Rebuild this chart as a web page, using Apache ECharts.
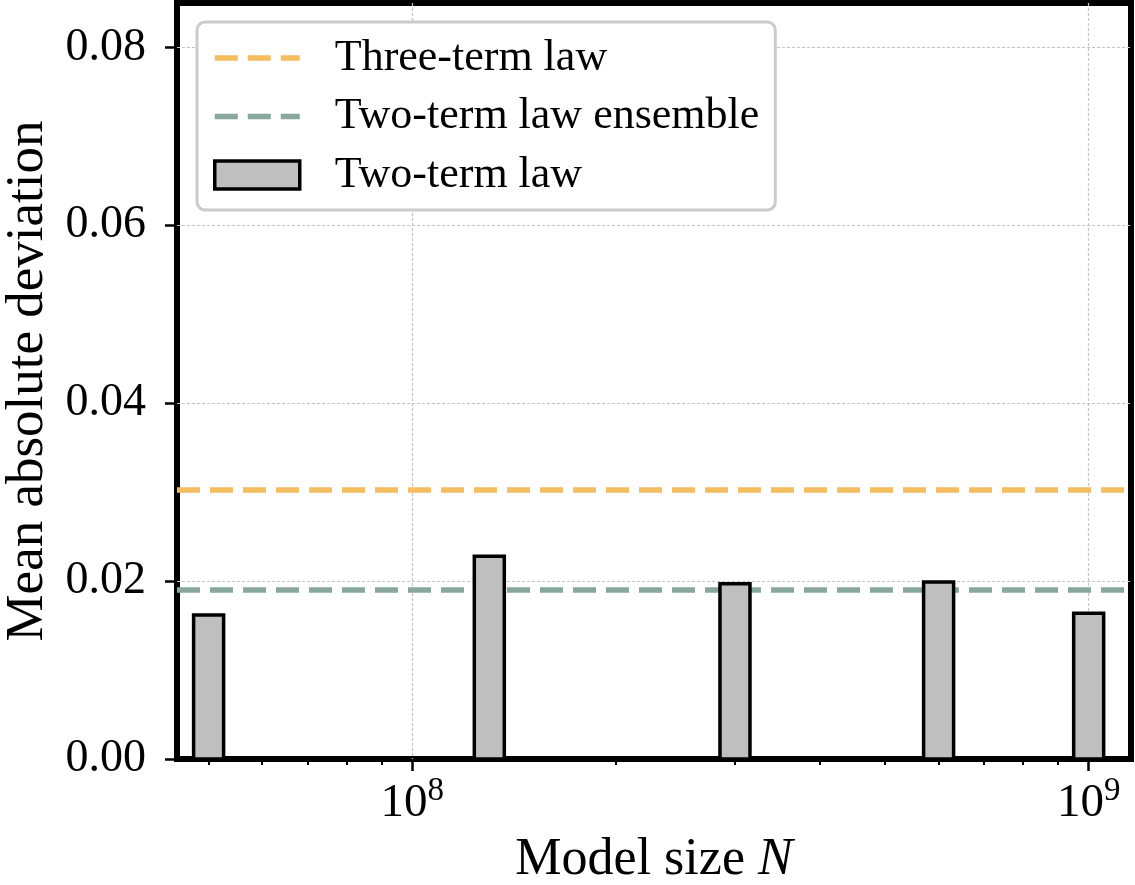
<!DOCTYPE html>
<html><head><meta charset="utf-8">
<script src="https://cdn.jsdelivr.net/npm/echarts@6/dist/echarts.min.js"></script>
<style>html,body{margin:0;padding:0;background:#fff}#c{width:1135px;height:885px}</style>
</head><body><div id="c"></div>
<script>
// ---- data ----
const modelSizes = [5.0e7, 1.3e8, 3.0e8, 6.0e8, 1.0e9];
const twoTermLaw = [0.0162, 0.0228, 0.0197, 0.0199, 0.0164];
const threeTermLaw = 0.0303;
const twoTermLawEnsemble = 0.0190;
const seriesNames = ['Three-term law', 'Two-term law ensemble', 'Two-term law'];
const yTicks = [0, 0.02, 0.04, 0.06, 0.08];
const xMajorTicks = [1e8, 1e9];
const xMinorTicks = [5e7, 6e7, 7e7, 8e7, 9e7, 2e8, 3e8, 4e8, 5e8, 6e8, 7e8, 8e8, 9e8];
const xRange = [4.49e7, 1.155e9];
const yRange = [0, 0.085];

// ---- style ----
const FONT = 'Liberation Serif';
const ORANGE = '#F4BD5F';
const GREEN = '#88A89C';
const BARFILL = '#bfbfbf';
const GRIDLINE = {color: '#c4c4c4', width: 1.2, type: [3, 2]};
const DASH = [23, 10];
// legend handle: three dashes, 5.5 px thick, centred in an 85 x 28 box
const DASH_ICON = 'path://M0,0L0.01,0L0,0.01Z M85,28L84.99,28L85,27.99Z ' +
  'M0,11.25h23v5.5h-23z M33,11.25h23v5.5h-23z M66,11.25h19v5.5h-19z';

const chart = echarts.init(document.getElementById('c'), null, {renderer: 'canvas'});

const barData = modelSizes.map((x, i) => [x, twoTermLaw[i]]);

function supLabel(v) {
  const e = Math.round(Math.log10(v));
  return '{b|10}{s|' + e + '}';
}

function refLine(name, color, value) {
  return {
    name: name, type: 'line', data: [], symbol: 'none', z: 3,
    itemStyle: {color: color},
    lineStyle: {color: color, width: 5.5, type: DASH},
    markLine: {silent: true, symbol: ['none', 'none'], precision: 6, label: {show: false},
      lineStyle: {color: color, width: 5.5, type: DASH},
      emphasis: {disabled: true},
      data: [{yAxis: value}]}
  };
}

const option = {
  animation: false,
  backgroundColor: '#fff',
  textStyle: {fontFamily: FONT},
  grid: {left: 177, right: 4, top: 3, bottom: 126, show: true, containLabel: false,
         outerBoundsMode: 'none',
         borderColor: '#000', borderWidth: 6, backgroundColor: 'transparent'},
  legend: {
    orient: 'vertical', left: 197, top: 22,
    padding: [14, 16, 13, 16], itemGap: 14.5,
    itemWidth: 85, itemHeight: 28,
    backgroundColor: '#fff', borderColor: '#cccccc', borderWidth: 3, borderRadius: 8,
    textStyle: {fontFamily: FONT, fontSize: 44, color: '#000', padding: [0, 0, 0, 30]},
    data: [
      {name: seriesNames[0], icon: DASH_ICON, itemStyle: {color: ORANGE, borderWidth: 0}},
      {name: seriesNames[1], icon: DASH_ICON, itemStyle: {color: GREEN, borderWidth: 0}},
      {name: seriesNames[2], icon: 'rect', itemStyle: {color: BARFILL, borderColor: '#000', borderWidth: 3.5}}
    ]
  },
  xAxis: [{
    type: 'log', logBase: 10, min: xRange[0], max: xRange[1],
    axisLine: {show: false},
    axisTick: {show: true, customValues: xMajorTicks, length: 12, lineStyle: {color: '#000', width: 2.5}},
    axisLabel: {customValues: xMajorTicks, margin: 16, formatter: supLabel,
      rich: {
        b: {fontFamily: FONT, fontSize: 47, lineHeight: 52, verticalAlign: 'bottom', color: '#000'},
        s: {fontFamily: FONT, fontSize: 33, lineHeight: 33, verticalAlign: 'top', color: '#000'}
      }},
    splitLine: {show: true, lineStyle: GRIDLINE},
    minorTick: {show: false}, minorSplitLine: {show: false},
    name: 'Model size {i|N}', nameLocation: 'middle', nameGap: 75,
    nameTextStyle: {fontFamily: FONT, fontSize: 52, color: '#000',
      rich: {i: {fontFamily: FONT, fontSize: 52, fontStyle: 'italic', color: '#000'}}}
  }, {
    type: 'log', logBase: 10, min: xRange[0], max: xRange[1], position: 'bottom',
    axisLine: {show: false}, axisLabel: {show: false}, splitLine: {show: false},
    axisTick: {show: true, customValues: xMinorTicks, length: 6, lineStyle: {color: '#000', width: 2}}
  }],
  yAxis: {
    type: 'value', min: yRange[0], max: yRange[1], interval: 0.02,
    axisLine: {show: false},
    axisTick: {show: true, customValues: yTicks, length: 12, lineStyle: {color: '#000', width: 2.5}},
    axisLabel: {customValues: yTicks, margin: 31, fontFamily: FONT, fontSize: 46, color: '#000',
      formatter: v => v.toFixed(2)},
    splitLine: {show: true, showMinLine: false, lineStyle: GRIDLINE},
    name: 'Mean absolute deviation', nameLocation: 'middle', nameGap: 119,
    nameTextStyle: {fontFamily: FONT, fontSize: 53, color: '#000'}
  },
  series: [
    refLine(seriesNames[0], ORANGE, threeTermLaw),
    refLine(seriesNames[1], GREEN, twoTermLawEnsemble),
    {
      name: seriesNames[2], type: 'custom', z: 5,
      itemStyle: {color: BARFILL, borderColor: '#000', borderWidth: 3.5},
      data: barData,
      encode: {x: 0, y: 1},
      renderItem: function (params, api) {
        const top = api.coord([api.value(0), api.value(1)]);
        const base = api.coord([api.value(0), 0]);
        const w = 30;
        return {
          type: 'rect',
          shape: {x: top[0] - w / 2, y: top[1], width: w, height: base[1] - top[1]},
          style: {fill: BARFILL, stroke: '#000', lineWidth: 3.5}
        };
      }
    }
  ]
};
chart.setOption(option);
</script>
</body></html>
